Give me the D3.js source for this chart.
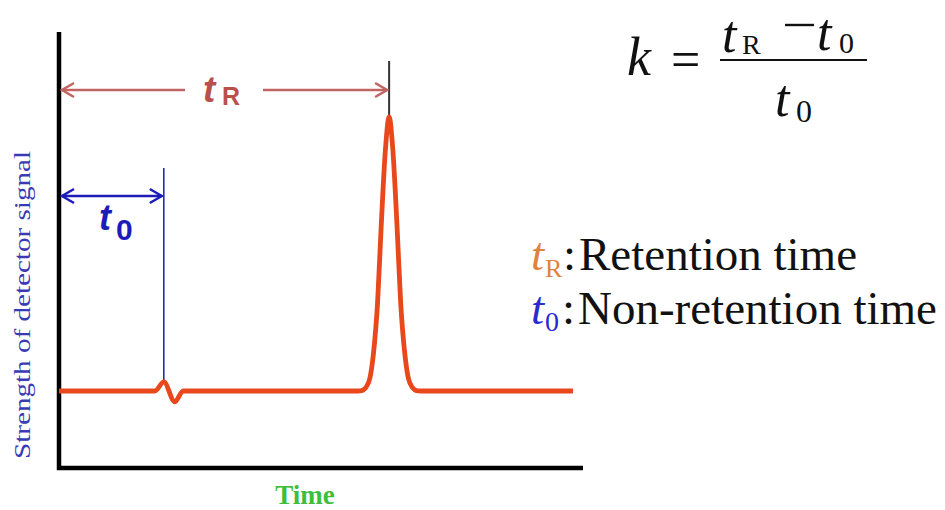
<!DOCTYPE html>
<html>
<head>
<meta charset="utf-8">
<script src="https://cdn.jsdelivr.net/npm/d3@7"></script>
<style>
  html, body { margin: 0; padding: 0; background: #ffffff; }
  svg { display: block; }
</style>
</head>
<body>
<svg id="chart" width="945" height="510"></svg>
<script>
// ---- data ----
const timeValues   = [0, 1.83, 2.0, 2.21, 2.37, 5.70, 5.78, 5.85, 5.93, 6.00, 6.08, 6.15, 6.23, 6.30, 6.37, 6.45, 6.52, 6.60, 6.67, 6.75, 6.82, 6.90, 9.81];
const signalValues = [17.7, 17.7, 19.8, 15.2, 17.7, 17.7, 17.8, 18.4, 20.5, 26.2, 38.1, 55.9, 73.3, 80.7, 73.3, 55.9, 38.1, 26.2, 20.5, 18.4, 17.8, 17.7, 17.7];
const t0Time = 2.0;     // non-retention time
const tRTime = 6.3;     // retention time
const t0BlipSignal = 19.8;
const tRPeakSignal = 80.7;
const xAxisLabel = "Time";
const yAxisLabel = "Strength of detector signal";
const legendLabels = ["Retention time", "Non-retention time"];

// ---- layout ----
const svg = d3.select("#chart");
const x = d3.scaleLinear().domain([0, 10]).range([59, 583]);
const y = d3.scaleLinear().domain([0, 100]).range([468, 33]);

const curveColor = "#e8481c";
const tRColor = "#c06462";
const t0Color = "#1c1cb8";
const serif = "Liberation Serif, Times New Roman, serif";

// axes (L-shaped frame)
svg.append("path")
  .attr("d", `M${x(0)},${y(100) - 1}V${y(0)}H${x(10)}`)
  .attr("fill", "none")
  .attr("stroke", "#000")
  .attr("stroke-width", 4.5)
  .attr("stroke-linejoin", "miter");

// axis titles
svg.append("text")
  .attr("transform", `translate(30,305) rotate(-90)`)
  .attr("text-anchor", "middle")
  .attr("font-family", serif)
  .attr("font-size", 23)
  .attr("fill", "#3a3ab4")
  .attr("textLength", 308)
  .attr("lengthAdjust", "spacingAndGlyphs")
  .text(yAxisLabel);

svg.append("text")
  .attr("x", 305).attr("y", 504)
  .attr("text-anchor", "middle")
  .attr("font-family", serif)
  .attr("font-weight", "bold")
  .attr("font-size", 27)
  .attr("fill", "#3cbf3c")
  .text(xAxisLabel);

// t0 vertical marker
svg.append("line")
  .attr("x1", x(t0Time)).attr("x2", x(t0Time))
  .attr("y1", 168).attr("y2", y(t0BlipSignal))
  .attr("stroke", "#2a2ab0").attr("stroke-width", 1.6);

// tR vertical marker
svg.append("line")
  .attr("x1", x(tRTime)).attr("x2", x(tRTime))
  .attr("y1", 61).attr("y2", y(tRPeakSignal))
  .attr("stroke", "#333").attr("stroke-width", 2);

// signal curve
const line = d3.line()
  .x((d, i) => x(timeValues[i]))
  .y((d, i) => y(signalValues[i]))
  .curve(d3.curveMonotoneX);

svg.append("path")
  .datum(timeValues)
  .attr("d", line)
  .attr("fill", "none")
  .attr("stroke", curveColor)
  .attr("stroke-width", 4.8)
  .attr("stroke-linejoin", "round")
  .attr("stroke-linecap", "butt");

// arrow helper
function chevron(tipX, tipY, dir, color, w) {
  const L = 12, H = 7;
  svg.append("path")
    .attr("d", `M${tipX + dir * L},${tipY - H}L${tipX},${tipY}L${tipX + dir * L},${tipY + H}`)
    .attr("fill", "none")
    .attr("stroke", color)
    .attr("stroke-width", w)
    .attr("stroke-linejoin", "miter");
}

// tR arrow
const tRY = 90;
const xl = x(0) + 3, xr = x(tRTime) - 2;
svg.append("line").attr("x1", xl).attr("x2", 185).attr("y1", tRY).attr("y2", tRY)
  .attr("stroke", tRColor).attr("stroke-width", 2.5);
svg.append("line").attr("x1", 263).attr("x2", xr).attr("y1", tRY).attr("y2", tRY)
  .attr("stroke", tRColor).attr("stroke-width", 2.5);
chevron(xl, tRY, 1, tRColor, 2.5);
chevron(xr, tRY, -1, tRColor, 2.5);

const tRLabel = svg.append("text")
  .attr("x", 203).attr("y", 102)
  .attr("font-family", "Liberation Sans, Arial, sans-serif")
  .attr("font-weight", "bold")
  .attr("fill", "#b8504c");
tRLabel.append("tspan").attr("font-style", "italic").attr("font-size", 37).text("t");
tRLabel.append("tspan").attr("font-size", 25).attr("x", 222).attr("dy", 3).text("R");

// t0 arrow
const t0Y = 196;
const x0l = x(0) + 3, x0r = x(t0Time) - 2;
svg.append("line").attr("x1", x0l).attr("x2", x0r).attr("y1", t0Y).attr("y2", t0Y)
  .attr("stroke", t0Color).attr("stroke-width", 2.5);
chevron(x0l, t0Y, 1, t0Color, 2.5);
chevron(x0r, t0Y, -1, t0Color, 2.5);

const t0Label = svg.append("text")
  .attr("x", 99).attr("y", 230)
  .attr("font-family", "Liberation Sans, Arial, sans-serif")
  .attr("font-weight", "bold")
  .attr("fill", t0Color);
t0Label.append("tspan").attr("font-style", "italic").attr("font-size", 36).text("t");
t0Label.append("tspan").attr("font-size", 30).attr("x", 116).attr("dy", 10).text("0");

// formula k = (tR - t0) / t0
function txt(xp, yp, s, size, italic, color, anchor) {
  return svg.append("text")
    .attr("x", xp).attr("y", yp)
    .attr("font-family", serif)
    .attr("font-size", size)
    .attr("font-style", italic ? "italic" : "normal")
    .attr("fill", color || "#111")
    .attr("text-anchor", anchor || "start")
    .text(s);
}
txt(627, 75, "k", 54, true);
txt(671, 77, "=", 52, false);
svg.append("line").attr("x1", 720).attr("x2", 867).attr("y1", 60).attr("y2", 60)
  .attr("stroke", "#111").attr("stroke-width", 2.2);
txt(722, 52, "t", 52, true);
txt(742, 54, "R", 28, false);
// minus sign of the numerator
svg.append("line").attr("x1", 785).attr("x2", 814).attr("y1", 25).attr("y2", 25)
  .attr("stroke", "#111").attr("stroke-width", 2.4);
txt(817, 50, "t", 52, true);
txt(839, 53, "0", 30, false);
txt(775, 116, "t", 52, true);
txt(796, 122, "0", 32, false);

// legend
const legFont = 47;
const leg1 = svg.append("text").attr("y", 270).attr("font-family", serif).attr("font-size", legFont);
leg1.append("tspan").attr("x", 531).attr("font-style", "italic").attr("fill", "#e0823a").text("t");
leg1.append("tspan").attr("x", 545).attr("font-size", 26).attr("dy", 7).attr("fill", "#e0823a").text("R");
leg1.append("tspan").attr("x", 563).attr("dy", -7).attr("fill", "#111").text(":");
leg1.append("tspan").attr("x", 579).attr("fill", "#111").text(legendLabels[0]);

const leg2 = svg.append("text").attr("y", 324).attr("font-family", serif).attr("font-size", legFont);
leg2.append("tspan").attr("x", 531).attr("font-style", "italic").attr("fill", "#2a2ad0").text("t");
leg2.append("tspan").attr("x", 545).attr("font-size", 28).attr("dy", 7).attr("fill", "#2a2ad0").text("0");
leg2.append("tspan").attr("x", 562).attr("dy", -7).attr("fill", "#111").text(":");
leg2.append("tspan").attr("x", 578).attr("fill", "#111").text(legendLabels[1]);
</script>
</body>
</html>
